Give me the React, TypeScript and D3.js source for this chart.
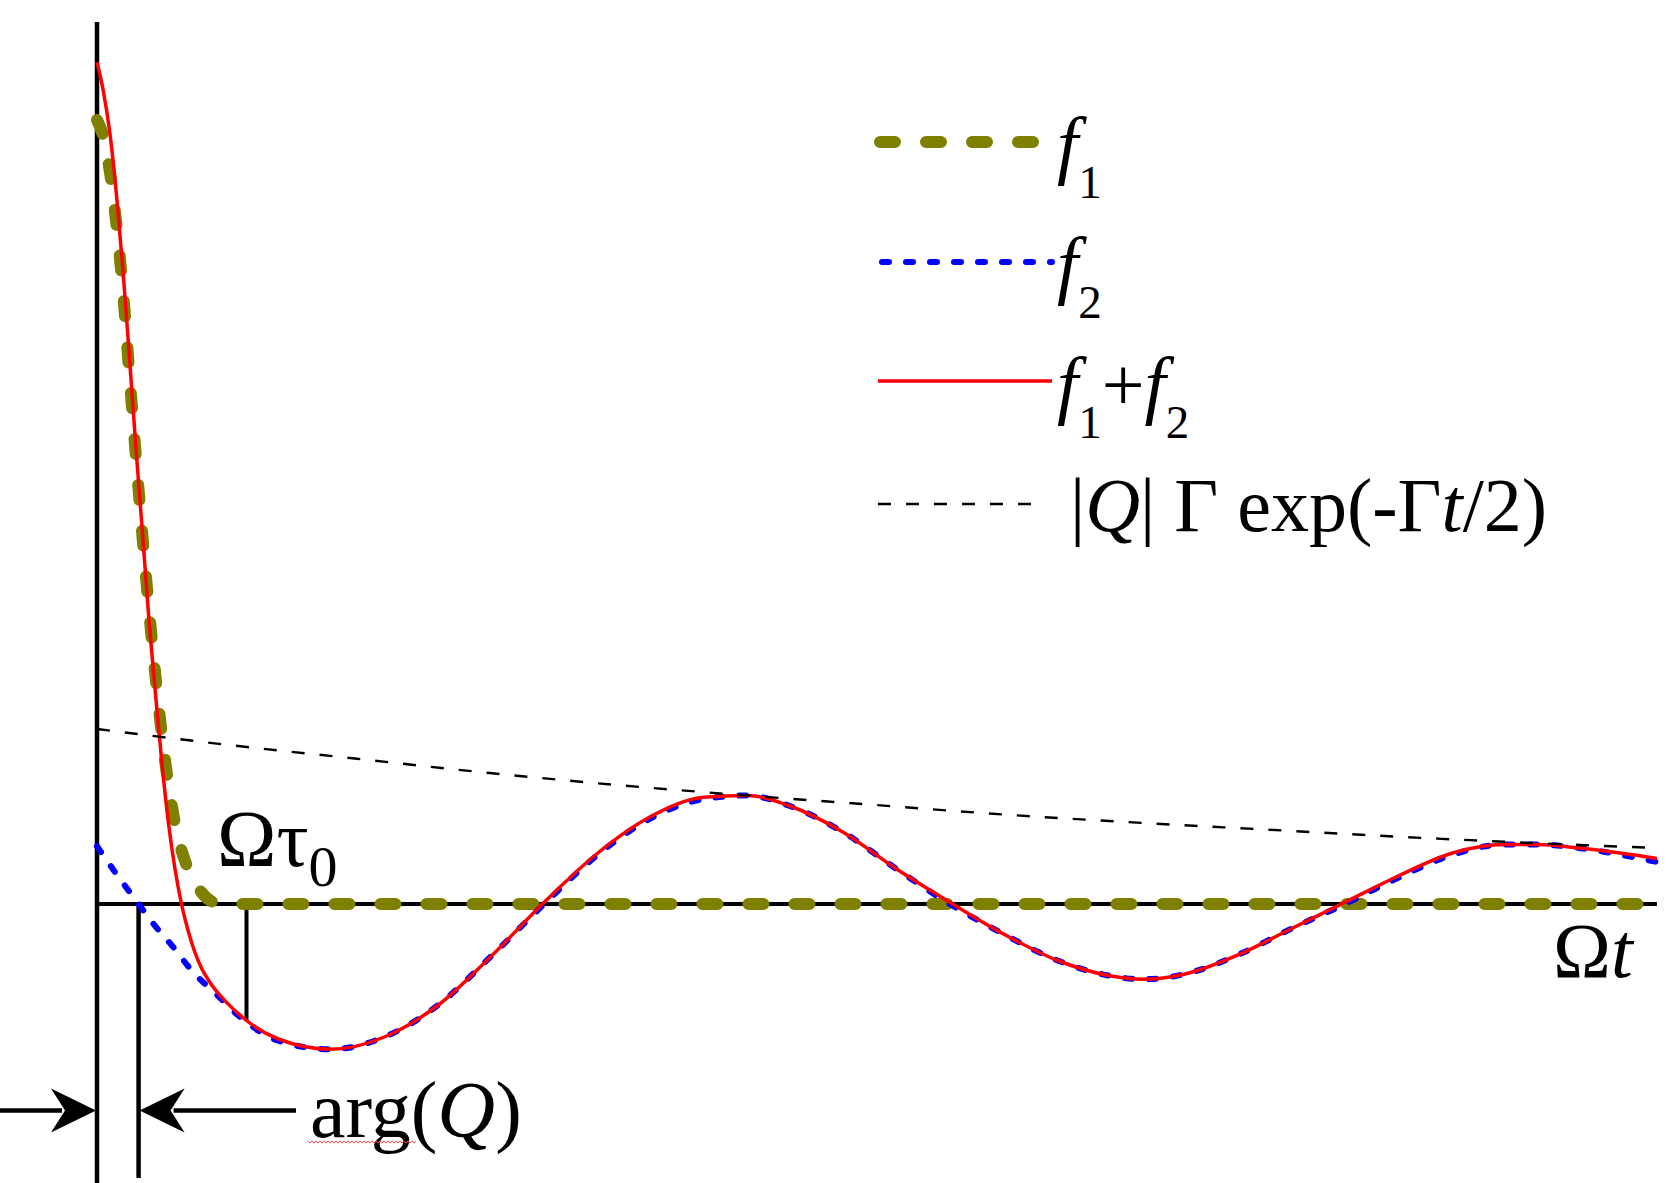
import React from 'react';
import * as d3 from 'd3';

const W = 1674;
const H = 1183;

// f1: fast decaying part (olive, thick dashes)
const f1T = [0, 0.05, 0.1, 0.15, 0.2, 0.25, 0.3, 0.35, 0.4, 0.45, 0.5, 0.55, 0.6, 0.7, 0.8, 0.9, 1.0, 12];
const f1Y = [4.48, 4.38, 4.18, 3.88, 3.5, 3.02, 2.55, 2.1, 1.68, 1.3, 0.96, 0.68, 0.46, 0.2, 0.07, 0.01, 0, 0];

// f2: damped oscillation (blue, dotted)
const f2T = [0, 0.16, 0.32, 0.43, 0.585, 0.74, 0.91, 1.1, 1.39, 1.8, 2.21, 2.62, 3.03, 3.44, 3.85, 4.26, 4.67, 5.0, 5.33, 5.74, 6.15, 6.56, 6.97, 7.38, 7.79, 8.04, 8.37, 8.78, 9.19, 9.6, 10.01, 10.42, 10.83, 11.08, 11.4, 11.73, 12];
const f2Y = [0.33, 0.16, 0, -0.11, -0.245, -0.39, -0.51, -0.645, -0.78, -0.83, -0.76, -0.58, -0.3, 0, 0.28, 0.49, 0.6, 0.62, 0.56, 0.41, 0.2, 0, -0.17, -0.32, -0.41, -0.43, -0.4, -0.29, -0.14, 0, 0.15, 0.28, 0.34, 0.34, 0.32, 0.28, 0.24];

// f1 + f2 (red, solid)
const sumT = [0, 0.05, 0.1, 0.15, 0.2, 0.25, 0.3, 0.35, 0.4, 0.45, 0.5, 0.55, 0.6, 0.65, 0.7, 0.75, 0.8, 0.88, 1.0, 1.14, 1.39, 1.8, 2.21, 2.62, 3.03, 3.44, 3.85, 4.26, 4.67, 5.0, 5.33, 5.74, 6.15, 6.56, 6.97, 7.38, 7.79, 8.04, 8.37, 8.78, 9.19, 9.6, 10.01, 10.42, 10.83, 11.08, 11.4, 11.73, 12];
const sumY = [4.81, 4.64, 4.4, 4.05, 3.62, 3.12, 2.6, 2.12, 1.62, 1.2, 0.8, 0.46, 0.2, 0.0, -0.15, -0.27, -0.36, -0.46, -0.565, -0.66, -0.77, -0.83, -0.76, -0.58, -0.3, 0.01, 0.29, 0.5, 0.61, 0.62, 0.56, 0.41, 0.2, 0.01, -0.17, -0.32, -0.41, -0.43, -0.4, -0.29, -0.14, 0.01, 0.16, 0.29, 0.34, 0.34, 0.32, 0.29, 0.26];

// envelope |Q| Γ exp(-Γt/2) (black, thin dashes)
const envT = [0, 1, 2, 3, 4, 5, 6, 7, 8, 9, 10, 11, 12];
const envY = [1.0, 0.91, 0.83, 0.75, 0.68, 0.62, 0.565, 0.51, 0.465, 0.425, 0.385, 0.35, 0.32];

// marked times
const argQ = 0.32;
const tau0 = 1.15;
const tau0Y = -0.665;
const arrowY = -1.18;

const font = '"Liberation Serif", "Times New Roman", serif';

const x = d3.scaleLinear().domain([0, 12]).range([97, 1657]);
const y = d3.scaleLinear().domain([0, 1]).range([904, 729]);

const line = d3.line<[number, number]>()
  .x(d => x(d[0]))
  .y(d => y(d[1]))
  .curve(d3.curveMonotoneX);

const zip = (t: number[], v: number[]) => t.map((ti, i) => [ti, v[i]] as [number, number]);

const styles = {
  f1: { stroke: '#808000', width: 12, dash: '15 31', cap: 'round' },
  f2: { stroke: '#0000ff', width: 6, dash: '7 17', cap: 'round' },
  sum: { stroke: '#ff0000', width: 3.5, dash: undefined, cap: 'butt' },
  env: { stroke: '#000000', width: 2.4, dash: '13 15', cap: 'butt' },
};

const legendRows = [
  { key: 'f1', y: 142, x1: 880, x2: 1036 },
  { key: 'f2', y: 262, x1: 882, x2: 1052 },
  { key: 'sum', y: 381, x1: 878, x2: 1052 },
  { key: 'env', y: 504, x1: 878, x2: 1040 },
];

const Arrow = ({ tip, dir }: { tip: number; dir: number }) => {
  const yy = y(arrowY);
  const p = [
    [tip, yy],
    [tip - dir * 45, yy - 22],
    [tip - dir * 31, yy],
    [tip - dir * 45, yy + 22],
  ];
  return <path d={'M' + p.map(q => q.join(',')).join('L') + 'Z'} fill="#000" />;
};

const Sub = ({ children }: { children: React.ReactNode }) => (
  <tspan fontSize={47} dy={28} fontStyle="normal">{children}</tspan>
);

export default function App() {
  const wave = d3.range(308, 417, 2).map((xx, i) => [xx, 1142 + (i % 2 === 0 ? -1.2 : 1.2)]);
  const seg = (k: keyof typeof styles) => {
    const s = styles[k];
    return { stroke: s.stroke, strokeWidth: s.width, strokeDasharray: s.dash, strokeLinecap: s.cap as any, fill: 'none' };
  };

  return (
    <svg width={W} height={H} style={{ position: 'absolute', left: 0, top: 0, display: 'block', background: '#fff' }}
      fontFamily={font}>
      {/* axes */}
      <line x1={x(0)} x2={x(0)} y1={22} y2={H} stroke="#000" strokeWidth={4.5} />
      <line x1={x(0)} x2={x(12)} y1={y(0)} y2={y(0)} stroke="#000" strokeWidth={4} />

      {/* marker lines */}
      <line x1={x(argQ)} x2={x(argQ)} y1={y(0)} y2={1178} stroke="#000" strokeWidth={4.5} />
      <line x1={x(tau0)} x2={x(tau0)} y1={y(0)} y2={y(tau0Y)} stroke="#000" strokeWidth={4} />

      {/* curves */}
      <path d={line(zip(f1T, f1Y)) || ''} {...seg('f1')} />
      <path d={line(zip(f2T, f2Y)) || ''} {...seg('f2')} />
      <path d={line(zip(sumT, sumY)) || ''} {...seg('sum')} />
      <path d={line(zip(envT, envY)) || ''} {...seg('env')} />

      {/* arg(Q) arrows */}
      <line x1={0} x2={x(0) - 35} y1={y(arrowY)} y2={y(arrowY)} stroke="#000" strokeWidth={4.5} />
      <Arrow tip={x(0) - 1} dir={1} />
      <line x1={x(argQ) + 35} x2={296} y1={y(arrowY)} y2={y(arrowY)} stroke="#000" strokeWidth={4.5} />
      <Arrow tip={x(argQ) + 1} dir={-1} />
      <text x={310} y={1137} fontSize={80}>arg(<tspan fontStyle="italic">Q</tspan>)</text>
      <path d={'M' + wave.map(q => q.join(',')).join('L')} stroke="#ff5050" strokeWidth={1} fill="none" />

      {/* Ωτ0 and Ωt */}
      <text x={217} y={866} fontSize={80}>Ωτ<tspan fontSize={58} dy={20}>0</tspan></text>
      <text x={1553} y={977} fontSize={78}>Ω<tspan fontStyle="italic">t</tspan></text>

      {/* legend */}
      {legendRows.map(r => (
        <line key={r.key} x1={r.x1} x2={r.x2} y1={r.y} y2={r.y} {...seg(r.key as keyof typeof styles)} />
      ))}
      <text x={1057} y={170} fontSize={76} fontStyle="italic">f<Sub>1</Sub></text>
      <text x={1057} y={290} fontSize={76} fontStyle="italic">f<Sub>2</Sub></text>
      <text x={1057} y={410} fontSize={76} fontStyle="italic">
        f<Sub>1</Sub><tspan dy={-28} fontStyle="normal">+</tspan>f<Sub>2</Sub>
      </text>
      <text x={1070} y={531} fontSize={76}>
        |<tspan fontStyle="italic">Q</tspan>| Γ exp(-Γ<tspan fontStyle="italic">t</tspan>/2)
      </text>
    </svg>
  );
}
